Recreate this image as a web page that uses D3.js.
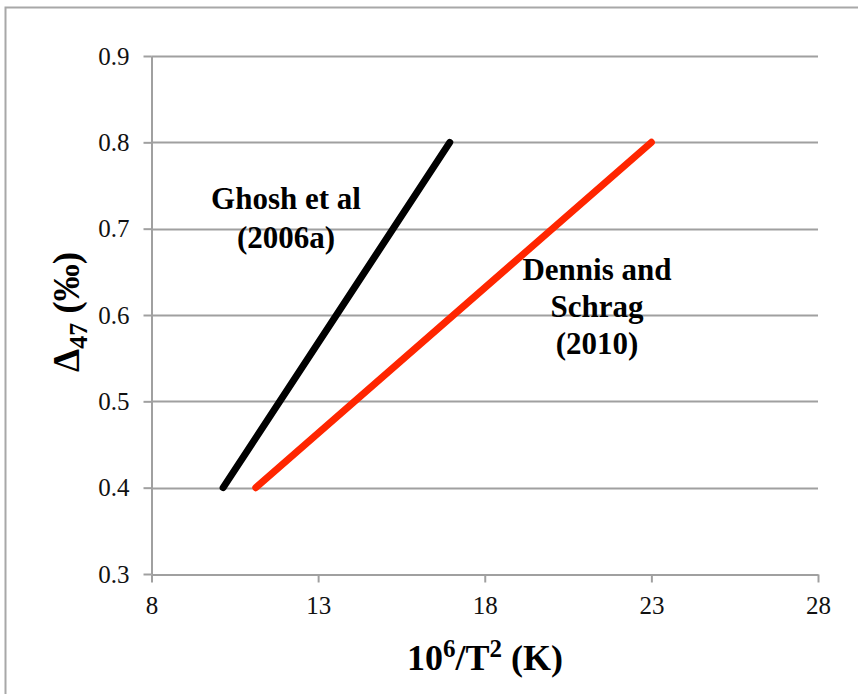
<!DOCTYPE html>
<html>
<head>
<meta charset="utf-8">
<script src="https://cdn.jsdelivr.net/npm/d3@7/dist/d3.min.js"></script>
<style>
  html, body { margin: 0; padding: 0; background: #fff; }
  svg { display: block; font-family: "Liberation Serif", "Times New Roman", serif; }
</style>
</head>
<body>
<div id="chart"></div>
<script>
// calibration lines, endpoints in 10^6/T^2 and Δ47
var ghoshX = [10.15, 16.95];
var ghoshY = [0.4, 0.8];
var dennisX = [11.13, 23.0];
var dennisY = [0.4, 0.8];
var xTicks = [8, 13, 18, 23, 28];
var yTicks = [0.3, 0.4, 0.5, 0.6, 0.7, 0.8, 0.9];

(function () {
  'use strict';

  var width = 858, height = 694,
      plotLeft = 151.5, plotRight = 818, plotTop = 56, plotBottom = 574,
      gridColor = '#a0a0a0';

  var svg = d3.select('#chart').append('svg')
    .attr('width', width)
    .attr('height', height);

  // outer chart frame
  svg.append('rect')
    .attr('x', 5.5).attr('y', 7.5)
    .attr('width', 900).attr('height', 900)
    .attr('fill', 'none')
    .attr('stroke', '#a8a8a8')
    .attr('stroke-width', 2);

  var x = d3.scaleLinear().domain([8, 28]).range([plotLeft, plotRight]);
  var y = d3.scaleLinear().domain([0.3, 0.9]).range([plotBottom, plotTop]);

  // horizontal gridlines
  svg.append('g')
    .selectAll('line')
    .data(yTicks.slice(1))
    .enter()
    .append('line')
    .attr('x1', plotLeft).attr('x2', plotRight)
    .attr('y1', function (d) { return Math.round(y(d)) + 0.5; })
    .attr('y2', function (d) { return Math.round(y(d)) + 0.5; })
    .attr('stroke', gridColor)
    .attr('stroke-width', 2);

  var xAxis = svg.append('g')
    .attr('transform', 'translate(0,' + (plotBottom + 0.5) + ')')
    .call(d3.axisBottom(x).tickValues(xTicks).tickSize(8).tickSizeOuter(0).tickPadding(14));

  var yAxis = svg.append('g')
    .attr('transform', 'translate(' + plotLeft + ',0)')
    .call(d3.axisLeft(y).tickValues(yTicks).tickSize(8).tickSizeOuter(0).tickPadding(14)
      .tickFormat(d3.format('.1f')));

  [xAxis, yAxis].forEach(function (ax) {
    ax.attr('font-family', null).attr('font-size', null);
    ax.select('.domain').attr('stroke', gridColor).attr('stroke-width', 2);
    ax.selectAll('.tick line').attr('stroke', gridColor).attr('stroke-width', 2);
    ax.selectAll('.tick text')
      .attr('fill', '#111')
      .style('font-family', '"Liberation Serif", serif')
      .style('font-size', '25px');
  });

  var line = d3.line()
    .x(function (d) { return x(d[0]); })
    .y(function (d) { return y(d[1]); });

  function drawSeries(xs, ys, color) {
    svg.append('path')
      .datum(d3.zip(xs, ys))
      .attr('d', line)
      .attr('fill', 'none')
      .attr('stroke', color)
      .attr('stroke-width', 7)
      .attr('stroke-linecap', 'round');
  }

  drawSeries(ghoshX, ghoshY, '#000000');
  drawSeries(dennisX, dennisY, '#ff2600');

  function label(lines, cx, y0, dy) {
    var t = svg.append('text')
      .attr('text-anchor', 'middle')
      .attr('font-weight', 'bold')
      .attr('font-size', 31)
      .attr('fill', '#000');
    lines.forEach(function (s, i) {
      t.append('tspan').attr('x', cx).attr('y', y0 + i * dy).text(s);
    });
  }

  label(['Ghosh et al', '(2006a)'], 286, 209, 39);
  label(['Dennis and', 'Schrag', '(2010)'], 597, 280, 37);

  // axis titles
  var xt = svg.append('text')
    .attr('x', 485).attr('y', 670)
    .attr('text-anchor', 'middle')
    .attr('font-weight', 'bold')
    .attr('font-size', 36);
  xt.append('tspan').text('10');
  xt.append('tspan').attr('dy', -13).attr('font-size', 25).text('6');
  xt.append('tspan').attr('dy', 13).text('/T');
  xt.append('tspan').attr('dy', -13).attr('font-size', 25).text('2');
  xt.append('tspan').attr('dy', 13).text(' (K)');

  var yt = svg.append('text')
    .attr('transform', 'translate(79,312) rotate(-90)')
    .attr('text-anchor', 'middle')
    .attr('font-weight', 'bold')
    .attr('font-size', 37);
  yt.append('tspan').text('Δ');
  yt.append('tspan').attr('dy', 8).attr('font-size', 26).text('47');
  yt.append('tspan').attr('dy', -8).text(' (‰)');
})();
</script>
</body>
</html>
